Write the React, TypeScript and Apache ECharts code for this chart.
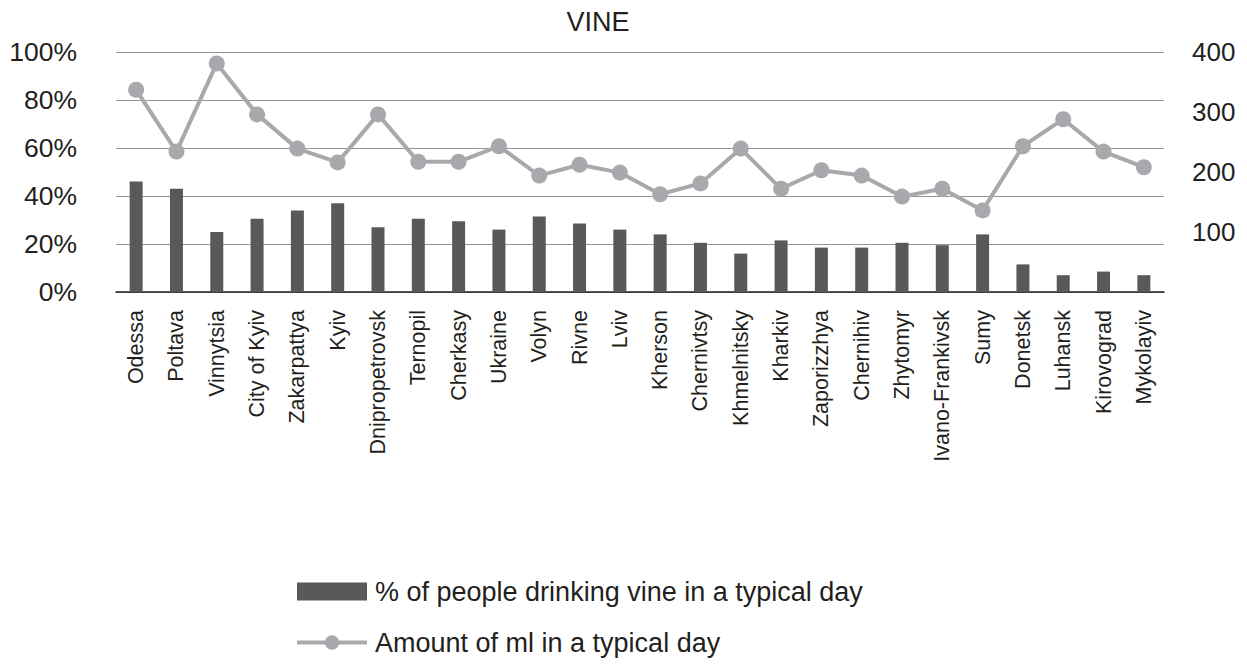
import React, { useEffect, useRef } from "react";
import * as echarts from "echarts";

// Regions, ordered as on the horizontal axis
const categories: string[] = [
  "Odessa", "Poltava", "Vinnytsia", "City of Kyiv", "Zakarpattya", "Kyiv",
  "Dnipropetrovsk", "Ternopil", "Cherkasy", "Ukraine", "Volyn", "Rivne", "Lviv",
  "Kherson", "Chernivtsy", "Khmelnitsky", "Kharkiv", "Zaporizzhya", "Chernihiv",
  "Zhytomyr", "Ivano-Frankivsk", "Sumy", "Donetsk", "Luhansk", "Kirovograd", "Mykolayiv",
];

// Share of people drinking wine on a typical day, %
const sharePct: number[] = [
  46, 43, 25, 30.5, 34, 37, 27, 30.5, 29.5, 26, 31.5, 28.5, 26,
  24, 20.5, 16, 21.5, 18.5, 18.5, 20.5, 19.5, 24, 11.5, 7, 8.5, 7,
];

// Amount consumed on a typical day, ml
const mlPerDay: number[] = [
  337, 234, 381, 296, 239, 216, 296, 217, 217, 243, 194, 212, 199,
  163, 181, 239, 172, 203, 194, 159, 172, 136, 243, 288, 234, 208,
];

const shareTicks: number[] = [0, 20, 40, 60, 80, 100];
const mlTicks: number[] = [0, 100, 200, 300, 400];

const barName = "% of people drinking vine in a typical day";
const lineName = "Amount of ml in a typical day";

const FONT = "'Liberation Sans', Arial, sans-serif";
const TEXT = "#231f20";
const BAR = "#58595b";
const LINE = "#a7a9ac";

export default function App() {
  const ref = useRef<HTMLDivElement>(null);

  useEffect(() => {
    if (!ref.current) return;
    const chart = echarts.init(ref.current, undefined, { renderer: "svg" });
    chart.setOption({
      animation: false,
      backgroundColor: "#ffffff",
      textStyle: { fontFamily: FONT },
      title: {
        text: "VINE",
        left: 598,
        top: 8,
        padding: 0,
        textAlign: "center",
        textStyle: { fontFamily: FONT, fontSize: 27, fontWeight: "normal", color: TEXT },
      },
      legend: {
        orient: "vertical",
        left: 295,
        top: 578,
        padding: 0,
        itemWidth: 70,
        itemHeight: 18,
        itemGap: 24,
        textStyle: { fontFamily: FONT, fontSize: 27, color: TEXT, padding: [0, 0, 0, 3] },
        data: [
          { name: barName, icon: "rect" },
          { name: lineName, lineStyle: { width: 4 } },
        ],
      },
      grid: { left: 116, right: 83, top: 52, height: 240, containLabel: false },
      xAxis: {
        type: "category",
        data: categories,
        axisLine: { show: true, lineStyle: { color: "#231f20", width: 1.5 } },
        axisTick: { show: false },
        axisLabel: {
          interval: 0,
          rotate: 90,
          margin: 18,
          fontFamily: FONT,
          fontSize: 21.5,
          color: TEXT,
        },
      },
      yAxis: [
        {
          type: "value",
          min: shareTicks[0],
          max: shareTicks[shareTicks.length - 1],
          interval: shareTicks[1] - shareTicks[0],
          axisLine: { show: false },
          axisTick: { show: false },
          splitLine: { show: true, lineStyle: { color: "#959595", width: 1 } },
          axisLabel: {
            formatter: "{value}%",
            margin: 39,
            fontFamily: FONT,
            fontSize: 26.5,
            color: TEXT,
          },
        },
        {
          type: "value",
          min: mlTicks[0],
          max: mlTicks[mlTicks.length - 1],
          interval: mlTicks[1] - mlTicks[0],
          axisLine: { show: false },
          axisTick: { show: false },
          splitLine: { show: false },
          axisLabel: {
            showMinLabel: false,
            margin: 28,
            fontFamily: FONT,
            fontSize: 26,
            color: TEXT,
          },
        },
      ],
      series: [
        {
          name: barName,
          type: "bar",
          yAxisIndex: 0,
          data: sharePct,
          barWidth: 13,
          itemStyle: { color: BAR },
        },
        {
          name: lineName,
          type: "line",
          yAxisIndex: 1,
          data: mlPerDay,
          symbol: "circle",
          symbolSize: 16,
          lineStyle: { color: LINE, width: 4 },
          itemStyle: { color: LINE },
        },
      ],
    });
    return () => chart.dispose();
  }, []);

  return (
    <div
      ref={ref}
      style={{ position: "absolute", left: 0, top: 0, width: 1247, height: 664, background: "#fff" }}
    />
  );
}
